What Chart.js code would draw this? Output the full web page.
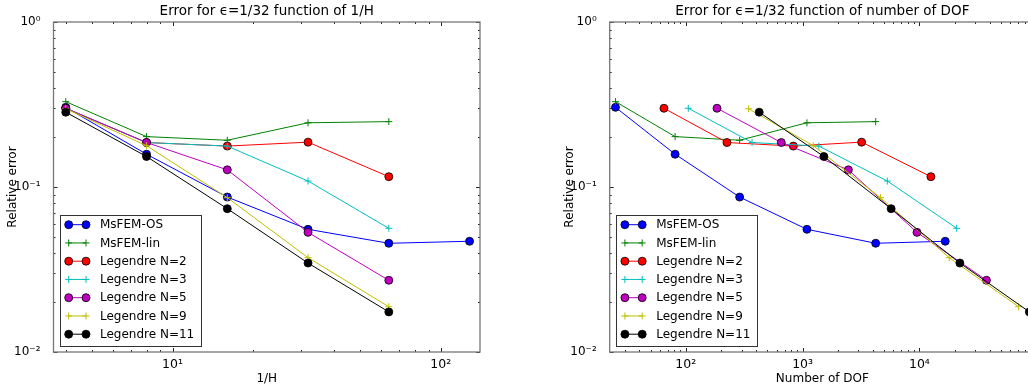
<!DOCTYPE html>
<html>
<head>
<meta charset="utf-8">
<script src="https://cdn.jsdelivr.net/npm/chart.js@4"></script>
<style>
html, body { margin: 0; padding: 0; background: #fff; overflow: hidden; }
#wrap { position: relative; width: 1028px; height: 389px; overflow: hidden; }
canvas { position: absolute; top: 0; }
</style>
</head>
<body>
<div id="wrap">
<canvas id="izq" width="500" height="389" style="left:0px"></canvas>
<canvas id="der" width="530" height="389" style="left:510px"></canvas>
</div>
<script>
// datos
var etiquetas = ['MsFEM-OS', 'MsFEM-lin', 'Legendre N=2', 'Legendre N=3', 'Legendre N=5', 'Legendre N=9', 'Legendre N=11'];
var colores = ['#0000ff', '#008000', '#ff0000', '#00bfbf', '#bf00bf', '#bfbf00', '#000000'];
var marcadores = ['o', '+', 'o', '+', 'o', '+', 'o'];

var invH = [4, 8, 16, 32, 64, 128];

var dofOS = [25, 81, 289, 1089, 4225, 16641];
var dofLin = [25, 81, 289, 1089, 4225];
var dofN2 = [65, 225, 833, 3201, 12545];
var dofN3 = [105, 369, 1377, 5313, 20865];
var dofN5 = [185, 657, 2465, 9537, 37505];
var dofN9 = [345, 1233, 4641, 17985, 70785];
var dofN11 = [425, 1521, 5729, 22209, 87425];

var errOS = [0.304, 0.158, 0.0869, 0.0554, 0.0456, 0.0469];
var errLin = [0.329, 0.202, 0.192, 0.245, 0.249];
var errN2 = [0.300, 0.186, 0.177, 0.187, 0.1155];
var errN3 = [0.300, 0.186, 0.177, 0.1087, 0.0562];
var errN5 = [0.300, 0.186, 0.127, 0.0531, 0.0272];
var errN9 = [0.298, 0.178, 0.0862, 0.0373, 0.0188];
var errN11 = [0.284, 0.153, 0.0739, 0.0346, 0.0175];

var ticksY = [0.01, 0.1, 1];
var labelsY = ['10⁻²', '10⁻¹', '10⁰'];
var ticksXIzq = [10, 100];
var labelsXIzq = ['10¹', '10²'];
var ticksXDer = [100, 1000, 10000];
var labelsXDer = ['10²', '10³', '10⁴'];

Chart.defaults.font.family = 'DejaVu Sans';
Chart.defaults.color = '#000';

function serie(i, xs, ys){
    var circulo = marcadores[i] == 'o';
    return {
        label: etiquetas[i],
        data: xs.map(function(x, j){ return {x: x, y: ys[j]}; }),
        borderColor: colores[i],
        backgroundColor: colores[i],
        borderWidth: 1,
        pointStyle: circulo ? 'circle' : 'cross',
        pointRadius: circulo ? 4 : 3.5,
        pointBackgroundColor: colores[i],
        pointBorderColor: circulo ? '#000' : colores[i],
        pointBorderWidth: circulo ? 0.8 : 1,
        marcador: marcadores[i],
        tension: 0,
        order: 10 - i
    };
}

// marco gris y marcas hacia dentro, como matplotlib
var marcos = {
    id: 'marcos',
    afterDatasetsDraw: function(chart){
        var ctx = chart.ctx, a = chart.chartArea;
        ctx.save();
        ctx.strokeStyle = '#222';
        ctx.lineWidth = 1;
        function marcas(escala, horizontal){
            var min = escala.min, max = escala.max;
            for (var d = Math.floor(Math.log10(min)); d <= Math.ceil(Math.log10(max)); d++){
                for (var k = 1; k < 10; k++){
                    var v = k * Math.pow(10, d);
                    if (v < min * 0.9999 || v > max * 1.0001) continue;
                    var p = Math.round(escala.getPixelForValue(v)) + 0.5;
                    var l = k == 1 ? 4 : 2;
                    ctx.beginPath();
                    if (horizontal){
                        ctx.moveTo(p, a.bottom); ctx.lineTo(p, a.bottom - l);
                        ctx.moveTo(p, a.top); ctx.lineTo(p, a.top + l);
                    } else {
                        ctx.moveTo(a.left, p); ctx.lineTo(a.left + l, p);
                        ctx.moveTo(a.right, p); ctx.lineTo(a.right - l, p);
                    }
                    ctx.stroke();
                }
            }
        }
        marcas(chart.scales.x, true);
        marcas(chart.scales.y, false);
        ctx.strokeStyle = '#777';
        ctx.lineWidth = 1.3;
        ctx.strokeRect(a.left, a.top, a.right - a.left, a.bottom - a.top);
        ctx.restore();
    }
};

var leyenda = {
    id: 'leyenda',
    afterDraw: function(chart){
        var ctx = chart.ctx, a = chart.chartArea;
        var ancho = 141, alto = 131;
        var x0 = a.left + 6.5, y0 = a.bottom - 6.5 - alto;
        ctx.save();
        ctx.fillStyle = '#fff';
        ctx.fillRect(x0, y0, ancho, alto);
        ctx.strokeStyle = '#333';
        ctx.lineWidth = 1;
        ctx.strokeRect(Math.round(x0) + 0.5, Math.round(y0) + 0.5, ancho, alto);
        chart.data.datasets.forEach(function(ds, i){
            var y = y0 + 10.2 + i * 18.25;
            ctx.strokeStyle = ds.borderColor;
            ctx.lineWidth = 1;
            ctx.beginPath();
            ctx.moveTo(x0 + 8.7, y); ctx.lineTo(x0 + 26, y);
            ctx.stroke();
            [x0 + 8.7, x0 + 26].forEach(function(px){
                ctx.beginPath();
                if (ds.marcador == 'o'){
                    ctx.arc(px, y, 4, 0, Math.PI * 2);
                    ctx.fillStyle = ds.borderColor;
                    ctx.fill();
                    ctx.strokeStyle = '#000';
                    ctx.lineWidth = 0.8;
                    ctx.stroke();
                } else {
                    ctx.moveTo(px - 3.5, y); ctx.lineTo(px + 3.5, y);
                    ctx.moveTo(px, y - 3.5); ctx.lineTo(px, y + 3.5);
                    ctx.strokeStyle = ds.borderColor;
                    ctx.lineWidth = 1;
                    ctx.stroke();
                }
            });
            ctx.fillStyle = '#000';
            ctx.font = '12px "DejaVu Sans"';
            ctx.textBaseline = 'middle';
            ctx.fillText(ds.label, x0 + 40, y + 0.5);
        });
        ctx.restore();
    }
};

function opciones(titulo, tituloX, xmin, xmax, ticksX, labelsX, izqPad, anchoY, derPad){
    return {
        responsive: false,
        animation: false,
        devicePixelRatio: 1,
        events: [],
        layout: { padding: { left: izqPad, right: derPad, top: 0, bottom: 0 } },
        plugins: {
            legend: { display: false },
            tooltip: { enabled: false },
            title: {
                display: true, text: titulo, fullSize: false, color: '#000',
                font: { size: 13.5, weight: 'normal', lineHeight: 1.2 },
                padding: { top: 3, bottom: 2.8 }
            }
        },
        scales: {
            x: {
                type: 'logarithmic', min: xmin, max: xmax,
                grid: { display: false }, border: { display: false },
                afterBuildTicks: function(s){ s.ticks = ticksX.map(function(v){ return {value: v}; }); },
                afterFit: function(s){ s.height = 37; },
                ticks: {
                    padding: -3, maxRotation: 0, autoSkip: false, font: { size: 12.5 },
                    callback: function(v){ return labelsX[ticksX.indexOf(v)]; }
                },
                title: { display: true, text: tituloX, font: { size: 12 }, padding: { top: 0, bottom: 3.3 } }
            },
            y: {
                type: 'logarithmic', min: 0.01, max: 1,
                grid: { display: false }, border: { display: false },
                afterBuildTicks: function(s){ s.ticks = ticksY.map(function(v){ return {value: v}; }); },
                afterFit: function(s){ s.width = anchoY; },
                ticks: {
                    padding: 5, autoSkip: false, font: { size: 12 },
                    callback: function(v){ return labelsY[ticksY.indexOf(v)]; }
                },
                title: { display: true, text: 'Relative error', font: { size: 12 }, padding: { top: 5.8, bottom: 0 } }
            }
        }
    };
}

new Chart(document.getElementById('izq'), {
    type: 'line',
    data: {
        datasets: [
            serie(0, invH, errOS),
            serie(1, invH.slice(0, 5), errLin),
            serie(2, invH.slice(0, 5), errN2),
            serie(3, invH.slice(0, 5), errN3),
            serie(4, invH.slice(0, 5), errN5),
            serie(5, invH.slice(0, 5), errN9),
            serie(6, invH.slice(0, 5), errN11)
        ]
    },
    options: opciones('Error for ϵ=1/32 function of 1/H', '1/H', 3.6, 140, ticksXIzq, labelsXIzq, 0, 53.5, 20),
    plugins: [marcos, leyenda]
});

new Chart(document.getElementById('der'), {
    type: 'line',
    data: {
        datasets: [
            serie(0, dofOS, errOS),
            serie(1, dofLin, errLin),
            serie(2, dofN2, errN2),
            serie(3, dofN3, errN3),
            serie(4, dofN5, errN5),
            serie(5, dofN9, errN9),
            serie(6, dofN11, errN11)
        ]
    },
    options: opciones('Error for ϵ=1/32 function of number of DOF', 'Number of DOF', 22.3, 97700, ticksXDer, labelsXDer, 47, 52.7, 5),
    plugins: [marcos, leyenda]
});
</script>
</body>
</html>
